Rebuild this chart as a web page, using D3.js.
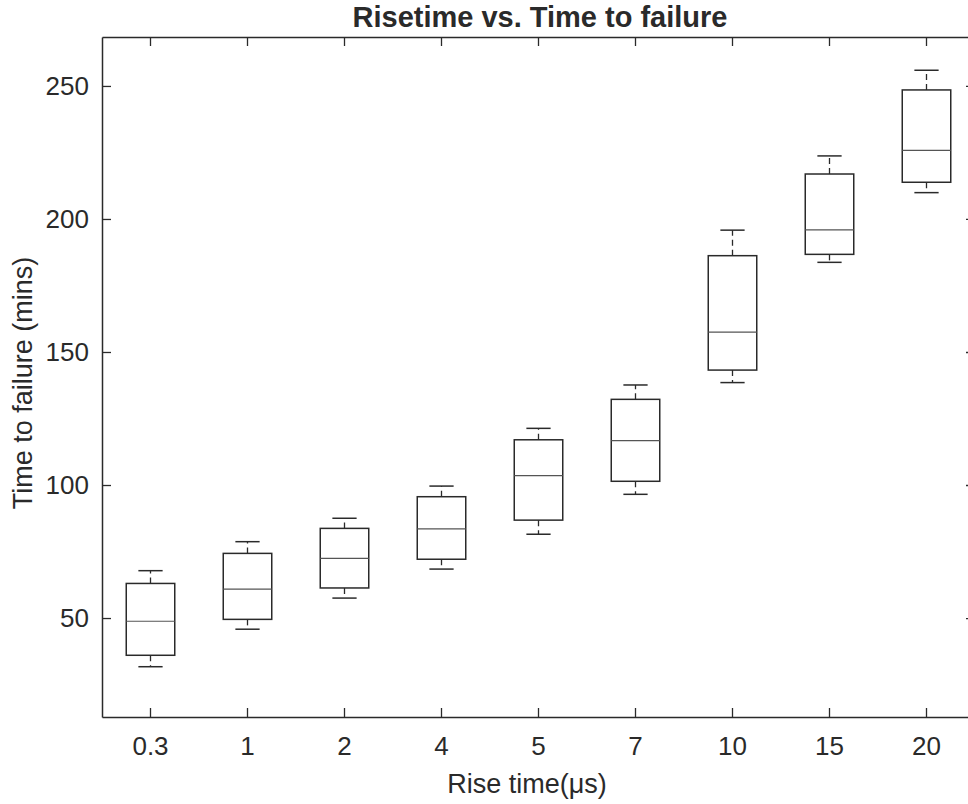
<!DOCTYPE html>
<html>
<head>
<meta charset="utf-8">
<script src="https://cdn.jsdelivr.net/npm/d3@7"></script>
<style>
  body { margin: 0; background: #fff; }
  text { font-family: "Liberation Sans", Arial, sans-serif; fill: #2a2a2a; }
</style>
</head>
<body>
<div id="chart"></div>
<script>
// Box plot data (mins)
const riseTimes = ["0.3", "1", "2", "4", "5", "7", "10", "15", "20"];
const whiskerLow = [31.7, 45.8, 57.5, 68.4, 81.5, 96.5, 138.5, 183.7, 209.9];
const q1Values   = [36.0, 49.5, 61.3, 72.1, 86.8, 101.4, 143.2, 186.7, 213.8];
const medians    = [48.8, 60.9, 72.4, 83.5, 103.5, 116.7, 157.5, 195.9, 225.8];
const q3Values   = [63.0, 74.3, 83.7, 95.6, 117.0, 132.2, 186.2, 216.9, 248.5];
const whiskerHigh = [67.8, 78.7, 87.5, 99.6, 121.3, 137.6, 195.8, 223.7, 255.9];
const yTicks = [50, 100, 150, 200, 250];

const boxes = riseTimes.map((r, i) => ({
    group: r,
    min: whiskerLow[i],
    q1: q1Values[i],
    median: medians[i],
    q3: q3Values[i],
    max: whiskerHigh[i]
}));

const W = 968, H = 804;
const margin = { top: 37, right: -7, bottom: 87, left: 102 };
const width = W - margin.left - margin.right;
const height = H - margin.top - margin.bottom;
const ink = "#2a2a2a";

const svg = d3.select("#chart").append("svg")
    .attr("width", W)
    .attr("height", H)
    .style("overflow", "hidden");

const g = svg.append("g")
    .attr("transform", `translate(${margin.left},${margin.top})`);

const x = d3.scaleBand()
    .domain(riseTimes)
    .range([0, width])
    .padding(0);

const y = d3.scaleLinear()
    .domain([12.8, 268.4])
    .range([height, 0]);

const boxW = x.bandwidth() * 0.5;
const capW = x.bandwidth() * 0.25;

// boxes
const bx = g.selectAll(".box").data(boxes).join("g")
    .attr("class", "box")
    .attr("transform", d => `translate(${x(d.group) + x.bandwidth() / 2},0)`);

// dashed whiskers
bx.append("line")
    .attr("x1", 0).attr("x2", 0)
    .attr("y1", d => y(d.q3)).attr("y2", d => y(d.max))
    .attr("stroke", ink).attr("stroke-width", 1.3)
    .attr("stroke-dasharray", "6,4");
bx.append("line")
    .attr("x1", 0).attr("x2", 0)
    .attr("y1", d => y(d.q1)).attr("y2", d => y(d.min))
    .attr("stroke", ink).attr("stroke-width", 1.3)
    .attr("stroke-dasharray", "6,4");

// caps
bx.append("line")
    .attr("x1", -capW / 2).attr("x2", capW / 2)
    .attr("y1", d => y(d.max)).attr("y2", d => y(d.max))
    .attr("stroke", ink).attr("stroke-width", 1.5);
bx.append("line")
    .attr("x1", -capW / 2).attr("x2", capW / 2)
    .attr("y1", d => y(d.min)).attr("y2", d => y(d.min))
    .attr("stroke", ink).attr("stroke-width", 1.5);

bx.append("rect")
    .attr("x", -boxW / 2)
    .attr("width", boxW)
    .attr("y", d => y(d.q3))
    .attr("height", d => y(d.q1) - y(d.q3))
    .attr("fill", "none")
    .attr("stroke", ink)
    .attr("stroke-width", 1.5);

bx.append("line")
    .attr("x1", -boxW / 2).attr("x2", boxW / 2)
    .attr("y1", d => y(d.median)).attr("y2", d => y(d.median))
    .attr("stroke", "#555").attr("stroke-width", 1.2);

// axes (ticks pointing inward, box around plot)
const axisFont = "26px";

const leftAxis = g.append("g")
    .call(d3.axisLeft(y).tickValues(yTicks).tickSizeInner(-9).tickSizeOuter(0).tickPadding(13));
const bottomAxis = g.append("g")
    .attr("transform", `translate(0,${height})`)
    .call(d3.axisBottom(x).tickSizeInner(-9).tickSizeOuter(0).tickPadding(20));
const topAxis = g.append("g")
    .call(d3.axisTop(x).tickSizeInner(-9).tickSizeOuter(0).tickFormat(""));
const rightAxis = g.append("g")
    .attr("transform", `translate(${width},0)`)
    .call(d3.axisRight(y).tickValues(yTicks).tickSizeInner(-9).tickSizeOuter(0).tickFormat(""));

[leftAxis, bottomAxis, topAxis, rightAxis].forEach(a => {
    a.selectAll("path.domain").attr("stroke", ink).attr("stroke-width", 1.5);
    a.selectAll(".tick line").attr("stroke", ink).attr("stroke-width", 1.3);
    a.selectAll(".tick text")
        .attr("font-size", axisFont)
        .attr("font-family", "'Liberation Sans', Arial, sans-serif")
        .attr("fill", "#333");
});

// title
svg.append("text")
    .attr("x", 540)
    .attr("y", 27)
    .attr("text-anchor", "middle")
    .attr("font-size", "29px")
    .attr("font-weight", "bold")
    .attr("fill", "#222")
    .text("Risetime vs. Time to failure");

// axis labels
svg.append("text")
    .attr("transform", "rotate(-90)")
    .attr("x", -(margin.top + height / 2) - 6)
    .attr("y", 32)
    .attr("text-anchor", "middle")
    .attr("font-size", "27px")
    .attr("fill", "#333")
    .text("Time to failure (mins)");

svg.append("text")
    .attr("x", 527)
    .attr("y", 793)
    .attr("text-anchor", "middle")
    .attr("font-size", "27px")
    .attr("fill", "#333")
    .text("Rise time(μs)");
</script>
</body>
</html>
